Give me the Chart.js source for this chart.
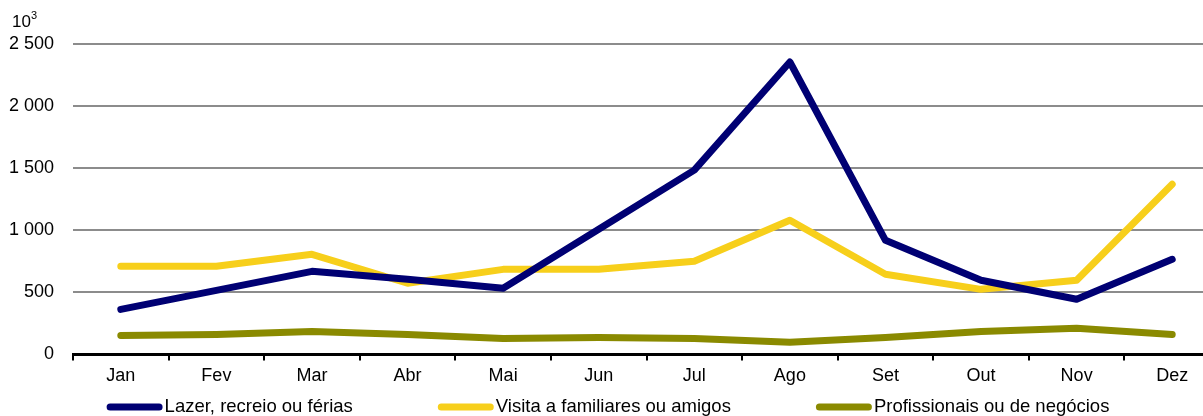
<!DOCTYPE html>
<html>
<head>
<meta charset="utf-8">
<script src="https://cdn.jsdelivr.net/npm/chart.js@4"></script>
<style>
  html, body { margin: 0; padding: 0; background: #fff; overflow: hidden; }
  #wrap { position: relative; width: 1220px; height: 416px; }
</style>
</head>
<body>
<div id="wrap"><canvas id="div_chart"></canvas></div>
<script>
// Monthly guests by purpose of trip (thousands)
var months = ['Jan', 'Fev', 'Mar', 'Abr', 'Mai', 'Jun', 'Jul', 'Ago', 'Set', 'Out', 'Nov', 'Dez'];
var lazer = [363, 516, 669, 605, 532, 1008, 1484, 2355, 919, 597, 444, 766];
var visita = [710, 710, 806, 573, 685, 685, 750, 1081, 645, 524, 597, 1371];
var profissionais = [153, 161, 185, 161, 129, 137, 129, 97, 137, 185, 210, 161];
var yTicks = [0, 500, 1000, 1500, 2000, 2500];

var FONT = '"Liberation Sans", Arial, sans-serif';
Chart.defaults.font.family = FONT;
Chart.defaults.font.size = 18;
Chart.defaults.color = '#000';

function line(label, values, colour) {
    return {
        label: label,
        data: values,
        borderColor: colour,
        backgroundColor: colour,
        borderWidth: 7,
        borderCapStyle: 'round',
        borderJoinStyle: 'round',
        pointRadius: 0,
        pointHoverRadius: 0,
        tension: 0
    };
}

// "10³" unit note above the value axis
var unitNote = {
    id: 'unitNote',
    afterDraw: function (chart) {
        var ctx = chart.ctx;
        ctx.save();
        ctx.font = '17px ' + FONT;
        ctx.fillStyle = '#000';
        ctx.textBaseline = 'middle';
        ctx.fillText('10', 12, 22);
        ctx.font = '11px ' + FONT;
        ctx.fillText('3', 31, 16);
        ctx.restore();
    }
};

// legend row along the bottom: rounded line sample + label, centred
var bottomLegend = {
    id: 'bottomLegend',
    afterDraw: function (chart) {
        var ctx = chart.ctx;
        var sample = 56, gapText = 2, gapItem = 85;
        var y = 407;
        ctx.save();
        ctx.font = '18.5px ' + FONT;
        var items = chart.data.datasets.map(function (ds) {
            return { text: ds.label, colour: ds.borderColor, w: ctx.measureText(ds.label).width };
        });
        var total = 0;
        items.forEach(function (it, i) {
            total += sample + gapText + it.w + (i < items.length - 1 ? gapItem : 0);
        });
        var x = (chart.width - total) / 2 - 2;
        ctx.textBaseline = 'middle';
        ctx.lineCap = 'round';
        ctx.lineWidth = 7;
        items.forEach(function (it) {
            ctx.strokeStyle = it.colour;
            ctx.beginPath();
            ctx.moveTo(x + 3.5, y);
            ctx.lineTo(x + sample - 3.5, y);
            ctx.stroke();
            ctx.fillStyle = '#000';
            ctx.fillText(it.text, x + sample + gapText, y);
            x += sample + gapText + it.w + gapItem;
        });
        ctx.restore();
    }
};

new Chart(document.getElementById('div_chart'), {
    type: 'line',
    data: {
        labels: months,
        datasets: [
            line('Lazer, recreio ou férias', lazer, '#000073'),
            line('Visita a familiares ou amigos', visita, '#f7cf1b'),
            line('Profissionais ou de negócios', profissionais, '#8a8a00')
        ]
    },
    options: {
        responsive: true,
        maintainAspectRatio: false,
        animation: false,
        layout: { padding: { top: 44, left: 0, right: 0, bottom: 24 } },
        plugins: {
            tooltip: { enabled: false },
            legend: { display: false }
        },
        scales: {
            x: {
                offset: true,
                grid: {
                    offset: true,
                    drawOnChartArea: false,
                    color: '#000',
                    lineWidth: 2,
                    tickLength: 6
                },
                border: { color: '#000', width: 3 },
                ticks: { padding: 5, maxRotation: 0 }
            },
            y: {
                min: 0,
                max: 2500,
                afterBuildTicks: function (scale) {
                    scale.ticks = yTicks.map(function (v) { return { value: v }; });
                },
                afterFit: function (scale) { scale.width = 73; },
                border: { display: false },
                grid: {
                    drawTicks: false,
                    lineWidth: 2,
                    color: function (c) { return c.tick && c.tick.value === 0 ? 'rgba(0,0,0,0)' : '#8c8c8c'; }
                },
                ticks: {
                    padding: 19,
                    callback: function (v) { return String(v).replace(/\B(?=(\d{3})+(?!\d))/g, ' '); }
                }
            }
        }
    },
    plugins: [unitNote, bottomLegend]
});
</script>
</body>
</html>
